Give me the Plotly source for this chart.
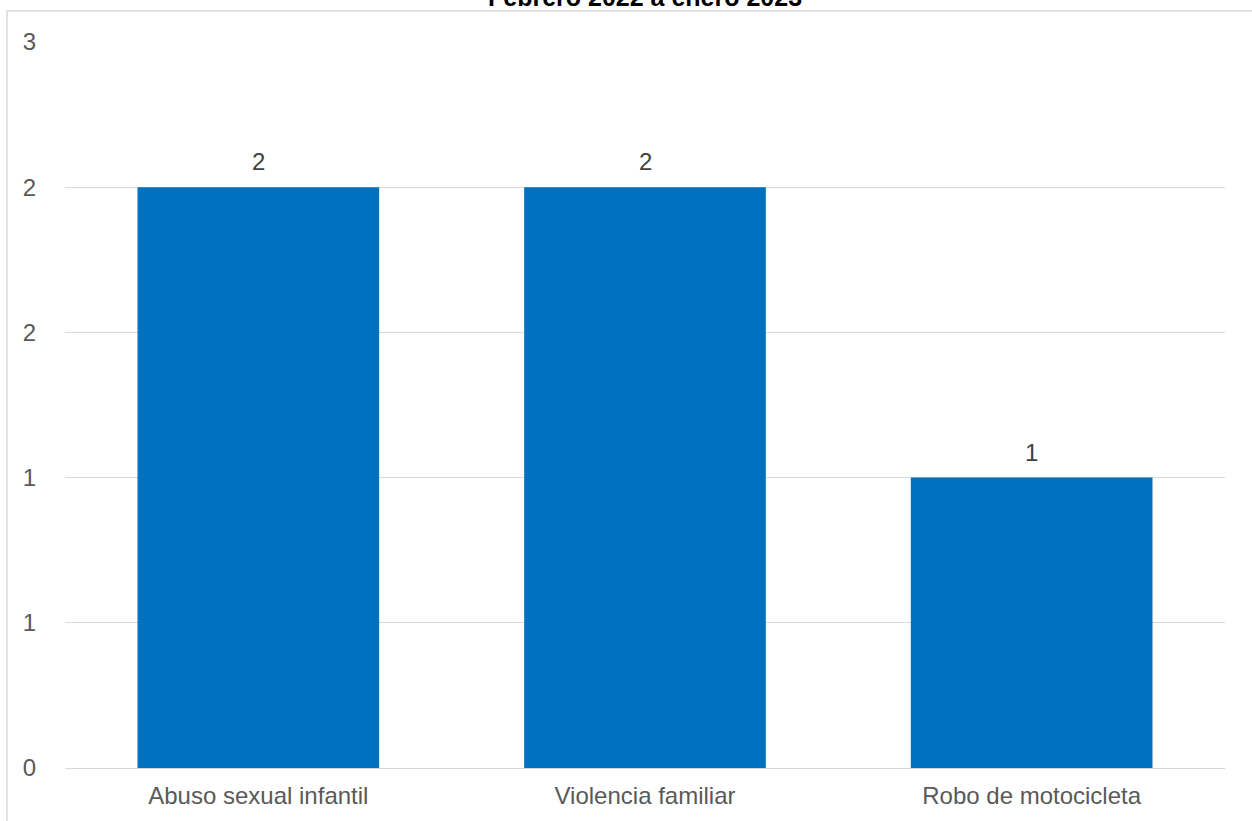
import plotly.graph_objects as go

categories = ["Abuso sexual infantil", "Violencia familiar", "Robo de motocicleta"]
values = [2, 2, 1]
tick_vals = [0, 0.5, 1, 1.5, 2, 2.5]
tick_text = ["0", "1", "1", "2", "2", "3"]
title_text = "Febrero 2022 a enero 2023"

W, H = 1252, 821
ml, mr, mt, mb = 65, 27, 42, 53
pw = W - ml - mr
ph = H - mt - mb
FONT = "Liberation Sans, Arial, sans-serif"

fig = go.Figure(go.Bar(
    x=categories, y=values,
    marker=dict(color="#0070C0", line=dict(width=0)),
    hoverinfo="x+y",
))

label_anns = [dict(x=c, y=v, xref="x", yref="y", text=str(v), showarrow=False,
                   xanchor="center", yanchor="bottom", yshift=10,
                   font=dict(family=FONT, size=24, color="#404040"))
              for c, v in zip(categories, values)]

fig.update_layout(
    width=W, height=H,
    margin=dict(l=ml, r=mr, t=mt, b=mb),
    paper_bgcolor="white", plot_bgcolor="white",
    bargap=0.375,
    showlegend=False,
    font=dict(family=FONT, size=24, color="#595959"),
    xaxis=dict(showgrid=False, showline=False, ticks="", ticklabelstandoff=11,
               tickfont=dict(size=24, color="#595959")),
    yaxis=dict(range=[0, 2.5], tickvals=tick_vals, ticktext=tick_text,
               showgrid=True, gridcolor="#D9D9D9", gridwidth=1.3,
               zeroline=True, zerolinecolor="#D9D9D9", zerolinewidth=1.3,
               showline=False, ticks="", ticklabelstandoff=28,
               tickfont=dict(size=24, color="#595959")),
    shapes=[dict(type="rect", xref="paper", yref="paper",
                 x0=(7 - ml) / pw, x1=1.2, y0=-0.3, y1=1 + (mt - 11) / ph,
                 line=dict(color="#D9D9D9", width=1.5), fillcolor="rgba(0,0,0,0)", layer="below")],
    annotations=label_anns + [dict(text="<b>" + title_text + "</b>", xref="paper", yref="paper",
                      x=0.5, y=1 + (mt + 3) / ph, xanchor="center", yanchor="middle",
                      showarrow=False, font=dict(family=FONT, size=25, color="#000000"))],
)

fig.write_html("out.html", config={"displayModeBar": False},
               post_script="document.body.style.margin='0';document.body.style.overflow='hidden';")
